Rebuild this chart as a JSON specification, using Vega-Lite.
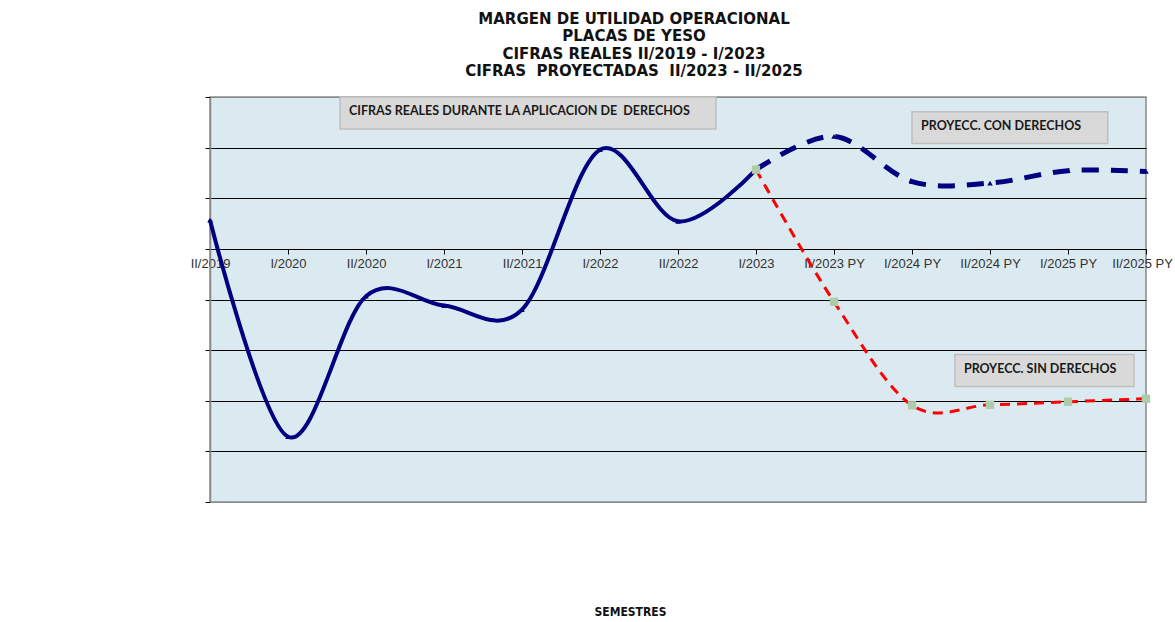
{
  "$schema": "https://vega.github.io/schema/vega-lite/v6.json",
  "width": 936,
  "height": 405,
  "autosize": "none",
  "padding": {"left": 210, "top": 97, "right": 29, "bottom": 120},
  "background": "white",
  "title": {
    "text": ["MARGEN DE UTILIDAD OPERACIONAL", "PLACAS DE YESO", "CIFRAS REALES II/2019 - I/2023", "CIFRAS\u00a0 PROYECTADAS\u00a0 II/2023 - II/2025"],
    "font": "DejaVu Sans",
    "fontSize": 15,
    "fontWeight": "bold",
    "color": "#111111",
    "lineHeight": 17.5,
    "anchor": "middle",
    "frame": "group",
    "dx": -44,
    "offset": 17
  },
  "config": {
    "view": {"fill": "#DBEAF0", "stroke": "#8a8a8a", "strokeWidth": 1.5}
  },
  "datasets": {
    "series": [
      {"i": 0, "periodo": "II/2019", "serie": "Reales", "v": 0.57},
      {"i": 1, "periodo": "I/2020", "serie": "Reales", "v": -3.71},
      {"i": 2, "periodo": "II/2020", "serie": "Reales", "v": -0.935},
      {"i": 3, "periodo": "I/2021", "serie": "Reales", "v": -1.12},
      {"i": 4, "periodo": "II/2021", "serie": "Reales", "v": -1.2},
      {"i": 5, "periodo": "I/2022", "serie": "Reales", "v": 1.96},
      {"i": 6, "periodo": "II/2022", "serie": "Reales", "v": 0.545},
      {"i": 7, "periodo": "I/2023", "serie": "Reales", "v": 1.565},
      {"i": 7, "periodo": "I/2023", "serie": "Con derechos", "v": 1.565},
      {"i": 8, "periodo": "II/2023 PY", "serie": "Con derechos", "v": 2.22},
      {"i": 9, "periodo": "I/2024 PY", "serie": "Con derechos", "v": 1.33},
      {"i": 10, "periodo": "II/2024 PY", "serie": "Con derechos", "v": 1.3},
      {"i": 11, "periodo": "I/2025 PY", "serie": "Con derechos", "v": 1.545},
      {"i": 12, "periodo": "II/2025 PY", "serie": "Con derechos", "v": 1.53},
      {"i": 7, "periodo": "I/2023", "serie": "Sin derechos", "v": 1.565},
      {"i": 8, "periodo": "II/2023 PY", "serie": "Sin derechos", "v": -1.046},
      {"i": 9, "periodo": "I/2024 PY", "serie": "Sin derechos", "v": -3.09},
      {"i": 10, "periodo": "II/2024 PY", "serie": "Sin derechos", "v": -3.08},
      {"i": 11, "periodo": "I/2025 PY", "serie": "Sin derechos", "v": -3.02},
      {"i": 12, "periodo": "II/2025 PY", "serie": "Sin derechos", "v": -2.96}
    ],
    "notes": [
      {"i": 1.667, "i2": 6.487, "v": 3.0, "v2": 2.37, "vm": 2.72, "label": "CIFRAS REALES DURANTE LA APLICACION DE\u00a0 DERECHOS"},
      {"i": 9.0, "i2": 11.51, "v": 2.71, "v2": 2.08, "vm": 2.42, "label": "PROYECC. CON DERECHOS"},
      {"i": 9.55, "i2": 11.846, "v": -2.086, "v2": -2.72, "vm": -2.38, "label": "PROYECC. SIN DERECHOS"}
    ]
  },
  "encoding": {
    "x": {
      "field": "i",
      "type": "quantitative",
      "scale": {"domain": [0, 12], "nice": false, "zero": false},
      "axis": {
        "values": [0, 1, 2, 3, 4, 5, 6, 7, 8, 9, 10, 11, 12],
        "labelExpr": "['II/2019','I/2020','II/2020','I/2021','II/2021','I/2022','II/2022','I/2023','II/2023 PY','I/2024 PY','II/2024 PY','I/2025 PY','II/2025 PY'][datum.value]",
        "offset": -253,
        "grid": false,
        "domainColor": "#000000",
        "domainWidth": 1,
        "tickColor": "#000000",
        "tickSize": 5,
        "labelFont": "Liberation Sans",
        "labelFontSize": 13,
        "labelColor": "#333333",
        "labelPadding": 3,
        "labelOffset": {"condition": {"test": "datum.value == 12", "value": -4}, "value": 0},
        "labelFlush": false,
        "labelOverlap": false,
        "title": "SEMESTRES",
        "titleFont": "DejaVu Sans Condensed",
        "titleFontSize": 12,
        "titleFontWeight": "bold",
        "titleColor": "#111111",
        "titleX": 420,
        "titleY": 357
      }
    },
    "y": {
      "field": "v",
      "type": "quantitative",
      "scale": {"domain": [-5, 3], "nice": false, "zero": false},
      "axis": {
        "values": [-5, -4, -3, -2, -1, 0, 1, 2, 3],
        "labels": false,
        "title": null,
        "tickSize": 5,
        "tickColor": "#000000",
        "domainColor": "#8a8a8a",
        "domainWidth": 1.5,
        "grid": true,
        "gridColor": {"condition": {"test": "datum.value == 3 || datum.value == -5", "value": "#8a8a8a"}, "value": "#000000"},
        "gridWidth": 1,
        "gridOpacity": 1
      }
    }
  },
  "layer": [
    {
      "data": {"name": "notes"},
      "mark": {"type": "rect", "fill": "#D9D9D9", "stroke": "#BFBFBF", "strokeWidth": 1.5},
      "encoding": {"x2": {"field": "i2"}, "y2": {"field": "v2"}}
    },
    {
      "data": {"name": "notes"},
      "mark": {"type": "text", "align": "left", "baseline": "middle", "dx": 9, "font": "Lato", "fontSize": 12.5, "fontWeight": "bold", "color": "#1a1a1a"},
      "encoding": {"y": {"field": "vm", "type": "quantitative"}, "text": {"field": "label"}}
    },
    {
      "data": {"name": "series"},
      "transform": [{"filter": "datum.serie == 'Reales'"}],
      "mark": {"type": "line", "interpolate": "cardinal", "color": "#000080", "strokeWidth": 4}
    },
    {
      "data": {"name": "series"},
      "transform": [{"filter": "datum.serie == 'Con derechos'"}],
      "mark": {"type": "line", "interpolate": "cardinal", "color": "#000080", "strokeWidth": 5, "strokeDash": [17, 12]}
    },
    {
      "data": {"name": "series"},
      "transform": [{"filter": "datum.serie == 'Sin derechos'"}],
      "mark": {"type": "line", "interpolate": "cardinal", "color": "#FF0000", "strokeWidth": 3, "strokeDash": [10, 7]}
    },
    {
      "data": {"name": "series"},
      "transform": [{"filter": "datum.serie != 'Sin derechos' && datum.i != 7"}],
      "mark": {"type": "point", "shape": "triangle-up", "filled": true, "size": 30, "color": "#000080", "opacity": 1}
    },
    {
      "data": {"name": "series"},
      "transform": [{"filter": "datum.serie == 'Sin derechos'"}],
      "mark": {"type": "point", "shape": "square", "filled": true, "size": 70, "color": "#AECBAA", "opacity": 1}
    }
  ]
}
